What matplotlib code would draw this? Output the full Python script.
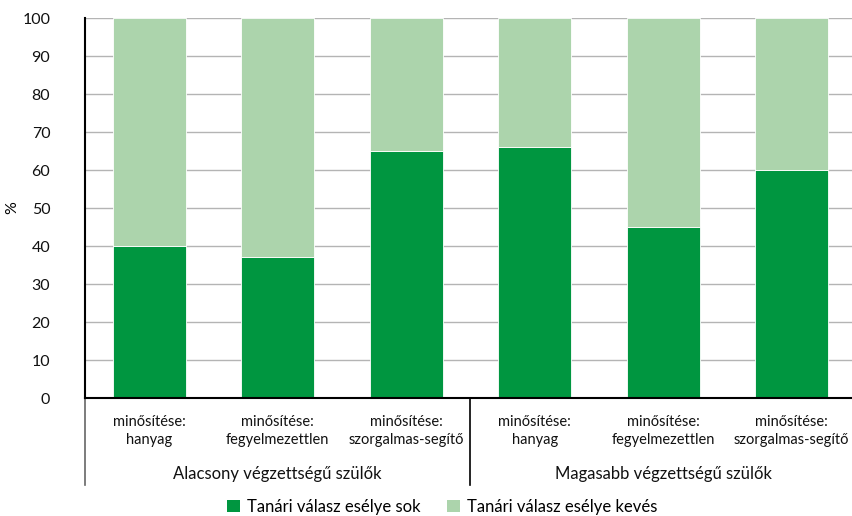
import numpy as np
import matplotlib.pyplot as plt
from matplotlib.lines import Line2D
from matplotlib.patches import Patch

plt.rcParams['font.family'] = ['Lato', 'DejaVu Sans']

# data
categories = ["minősítése:\nhanyag", "minősítése:\nfegyelmezettlen", "minősítése:\nszorgalmas-segítő",
              "minősítése:\nhanyag", "minősítése:\nfegyelmezettlen", "minősítése:\nszorgalmas-segítő"]
groups = ["Alacsony végzettségű szülők", "Magasabb végzettségű szülők"]
sok = [40, 37, 65, 66, 45, 60]
keves = [100 - v for v in sok]
series_names = ["Tanári válasz esélye sok", "Tanári válasz esélye kevés"]

dark = "#009640"
light = "#acd4ac"

fig = plt.figure(figsize=(8.53, 5.16), dpi=100)
ax = fig.add_axes([85/853, 118/516, 771/853, 380/516])

x = np.arange(len(sok))
ax.bar(x, sok, width=0.57, color=dark, edgecolor="white", linewidth=0.6, zorder=2)
ax.bar(x, keves, bottom=sok, width=0.57, color=light, edgecolor="white", linewidth=0.6, zorder=2)

ax.set_xlim(-0.5, 5.5)
ax.set_ylim(0, 100)
ax.set_yticks(np.arange(0, 101, 10))
ax.yaxis.grid(True, color="#b4b4b4", linewidth=1.0, zorder=0)
ax.set_axisbelow(True)
for s in ["top", "right"]:
    ax.spines[s].set_visible(False)
ax.spines["left"].set_linewidth(1.5)
ax.spines["bottom"].set_linewidth(1.5)
ax.tick_params(axis="y", length=0, labelsize=11.5, pad=25, labelcolor="#111111")
ax.tick_params(axis="x", length=0)
ax.set_xticks([])
ax.set_ylabel("%", fontsize=11.5, labelpad=4)
ax.yaxis.set_label_coords(-0.085, 0.5)

trans = ax.get_xaxis_transform()
for i, lab in enumerate(categories):
    ax.text(i, -0.045, lab, transform=trans, ha="center", va="top",
            fontsize=10.5, linespacing=1.35, color="#111111")
for g, name in enumerate(groups):
    ax.text(g * 3 + 1, -0.18, name, transform=trans, ha="center", va="top",
            fontsize=12, color="#111111")

# group separators
ax.add_line(Line2D([-0.5, -0.5], [0, -0.23], transform=trans, color="#666666",
                   linewidth=1.2, clip_on=False))
ax.add_line(Line2D([2.5, 2.5], [0, -0.23], transform=trans, color="black",
                   linewidth=1.2, clip_on=False))

handles = [Patch(facecolor=dark, edgecolor="none"), Patch(facecolor=light, edgecolor="none")]
fig.legend(handles, series_names, loc="center", bbox_to_anchor=(0.518, 0.018),
           ncol=2, frameon=False, fontsize=12, handlelength=0.8, handleheight=0.8,
           handletextpad=0.4, columnspacing=1.6)

fig.savefig("out.png", dpi=100)
